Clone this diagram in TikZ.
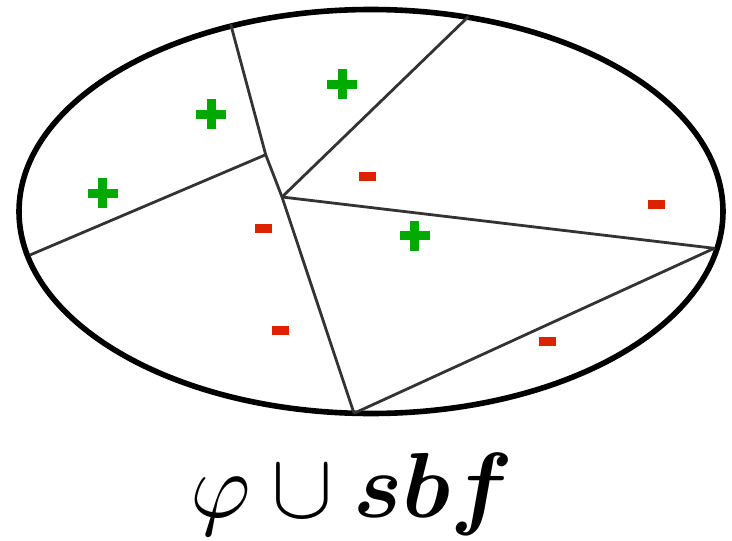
\documentclass[tikz,border=0pt]{standalone}
\usepackage{amsmath,amssymb,bm}
\usepackage{graphicx}
\usepackage{xcolor}
\usepackage{tikz}
\definecolor{posgreen}{RGB}{0,170,0}
\definecolor{negred}{RGB}{221,34,0}
\definecolor{cutgray}{RGB}{51,51,51}
\tikzset{
  cut/.style={cutgray,line width=2.8pt,line join=round},
  pplus/.pic={\fill[posgreen] (-15,-4.5) rectangle (15,4.5);
              \fill[posgreen] (-4.5,-15) rectangle (4.5,15);},
  mminus/.pic={\fill[negred] (-8.5,-4.5) rectangle (8.5,4.5);}
}

\begin{document}
\begin{tikzpicture}[x=1pt,y=-1pt]
  \useasboundingbox (0,0) rectangle (732,541);
  % outer region
  \draw[line width=5.6pt] (371,211.5) ellipse [x radius=352, y radius=202];
  % cut points
  \coordinate (top)   at (230.7,24.3);
  \coordinate (kink)  at (265.7,154.7);
  \coordinate (mid)   at (282,197);
  \coordinate (topr)  at (468.3,16.7);
  \coordinate (left)  at (30,255);
  \coordinate (right) at (714.3,248.3);
  \coordinate (bot)   at (354,413.3);
  % cuts
  \draw[cut] (top)--(kink)--(mid)--(bot);
  \draw[cut] (kink)--(left);
  \draw[cut] (mid)--(topr);
  \draw[cut] (mid)--(right)--(bot);
  % signs
  \pic at (342.3,84) {pplus};
  \pic at (211.3,114) {pplus};
  \pic at (102.5,193.3) {pplus};
  \pic at (414.7,235.7) {pplus};
  \pic at (367.3,176.3) {mminus};
  \pic at (263.3,228.3) {mminus};
  \pic at (280.3,330.3) {mminus};
  \pic at (656.3,204.3) {mminus};
  \pic at (547.3,341.3) {mminus};
  % label
  \node[inner sep=0pt] (lbl) at (352,494)
    {\scalebox{9.25}{$\varphi\cup\bm{sbf}$}};
\end{tikzpicture}
\end{document}
